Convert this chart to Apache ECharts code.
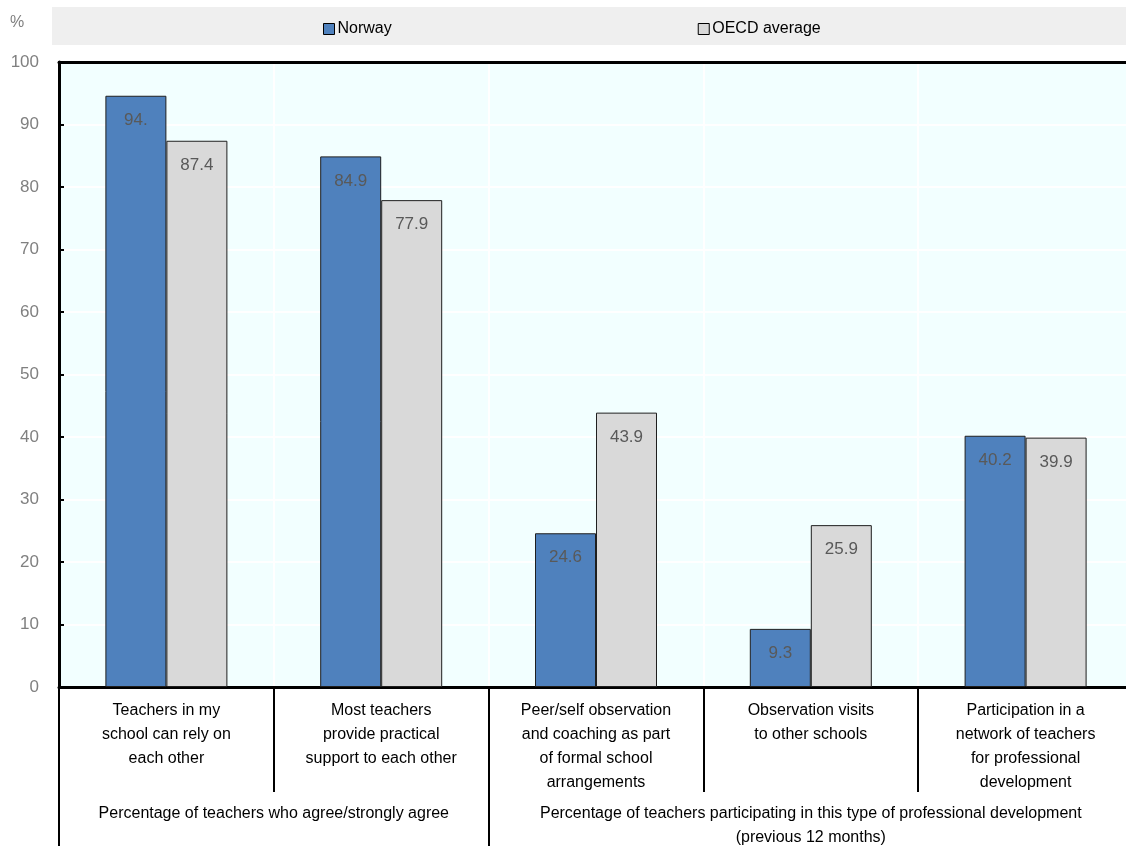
<!DOCTYPE html>
<html>
<head>
<meta charset="utf-8">
<style>
html, body { margin: 0; padding: 0; background: #fff; overflow: hidden; }
#chart { width: 1140px; height: 846px; }
</style>
<script src="https://cdn.jsdelivr.net/npm/echarts@6/dist/echarts.min.js"></script>
</head>
<body>
<div id="chart"></div>
<script>
var categories = [
    'Teachers in my\nschool can rely on\neach other',
    'Most teachers\nprovide practical\nsupport to each other',
    'Peer/self observation\nand coaching as part\nof formal school\narrangements',
    'Observation visits\nto other schools',
    'Participation in a\nnetwork of teachers\nfor professional\ndevelopment'
];
var norway = [94.6, 84.9, 24.6, 9.3, 40.2];
var norwayLabels = ['94.', '84.9', '24.6', '9.3', '40.2'];
var oecd = [87.4, 77.9, 43.9, 25.9, 39.9];
var groups = [
    'Percentage of teachers who agree/strongly agree',
    'Percentage of teachers participating in this type of professional development\n(previous 12 months)'
];
// first and last category (index) of each group
var groupStart = [0, 2];
var groupEnd = [2, 5];
var yTicks = [0, 10, 20, 30, 40, 50, 60, 70, 80, 90, 100];

var font = "'Liberation Sans Narrow', 'Arial Narrow', 'Liberation Sans', sans-serif";
var chart = echarts.init(document.getElementById('chart'));

var groupCenters = groupStart.map(function (s, i) { return (s + groupEnd[i]) / 2; });
var groupEdges = groupStart.concat([groupEnd[groupEnd.length - 1]]);

var labelStyle = {
    show: true,
    position: 'insideTop',
    distance: 16,
    color: '#595959',
    fontSize: 17,
    fontFamily: font
};

var option = {
    animation: false,
    textStyle: { fontFamily: font },
    graphic: [{
        type: 'rect',
        left: 52, top: 7,
        shape: { width: 1090, height: 38 },
        style: { fill: '#efefef' },
        z: -1
    }, {
        type: 'text',
        left: 10, top: 15,
        style: { text: '%', fill: '#808080', fontSize: 16, fontFamily: font }
    }],
    legend: {
        top: 16,
        left: 318,
        itemGap: 306,
        itemWidth: 11,
        itemHeight: 11,
        icon: 'rect',
        itemStyle: { borderColor: '#000', borderWidth: 1 },
        data: ['Norway', 'OECD average'],
        textStyle: { fontSize: 16, color: '#000', fontFamily: font, padding: [0, 0, 0, -2] }
    },
    grid: {
        left: 59,
        right: 7,
        top: 62,
        bottom: 159,
        outerBoundsMode: 'none',
        containLabel: false,
        show: true,
        backgroundColor: '#f2ffff',
        borderColor: '#000',
        borderWidth: 2
    },
    xAxis: [{
        type: 'category',
        data: categories,
        axisLine: { lineStyle: { color: '#000', width: 3 } },
        axisTick: { show: true, length: 105, lineStyle: { color: '#000', width: 2 } },
        splitLine: { show: true, lineStyle: { color: '#ffffff', width: 2 } },
        axisLabel: {
            interval: 0,
            margin: 12,
            color: '#000',
            fontSize: 16,
            lineHeight: 24,
            fontFamily: font
        }
    }, {
        type: 'value',
        position: 'bottom',
        min: 0,
        max: categories.length,
        axisLine: { show: false },
        splitLine: { show: false },
        axisTick: {
            show: true,
            customValues: groupEdges,
            length: 160,
            lineStyle: { color: '#000', width: 2 }
        },
        axisLabel: {
            customValues: groupCenters,
            margin: 115,
            color: '#000',
            fontSize: 16,
            lineHeight: 24,
            fontFamily: font,
            formatter: function (v) {
                var i = groupCenters.indexOf(v);
                return i >= 0 ? groups[i] : '';
            }
        }
    }, {
        // top frame line
        type: 'category',
        position: 'top',
        data: categories,
        axisLine: { show: true, lineStyle: { color: '#000', width: 3 } },
        axisTick: { show: false },
        axisLabel: { show: false },
        splitLine: { show: false }
    }],
    yAxis: {
        type: 'value',
        min: yTicks[0],
        max: yTicks[yTicks.length - 1],
        interval: 10,
        axisLine: { show: true, lineStyle: { color: '#000', width: 3 } },
        axisTick: { show: true, inside: true, length: 5, lineStyle: { color: '#000', width: 2 } },
        splitLine: { show: true, lineStyle: { color: '#ffffff', width: 2 } },
        axisLabel: { color: '#808080', fontSize: 17, margin: 20, fontFamily: font }
    },
    series: [{
        name: 'Norway',
        type: 'bar',
        data: norway,
        barWidth: 61,
        barGap: '0%',
        itemStyle: { color: '#4f81bd', borderColor: '#1f1f1f', borderWidth: 1 },
        label: Object.assign({}, labelStyle, {
            formatter: function (p) { return norwayLabels[p.dataIndex]; }
        })
    }, {
        name: 'OECD average',
        type: 'bar',
        data: oecd,
        barWidth: 61,
        itemStyle: { color: '#d9d9d9', borderColor: '#1f1f1f', borderWidth: 1 },
        label: Object.assign({}, labelStyle, {
            formatter: function (p) { return p.value.toFixed(1); }
        })
    }]
};

chart.setOption(option);
</script>
</body>
</html>
